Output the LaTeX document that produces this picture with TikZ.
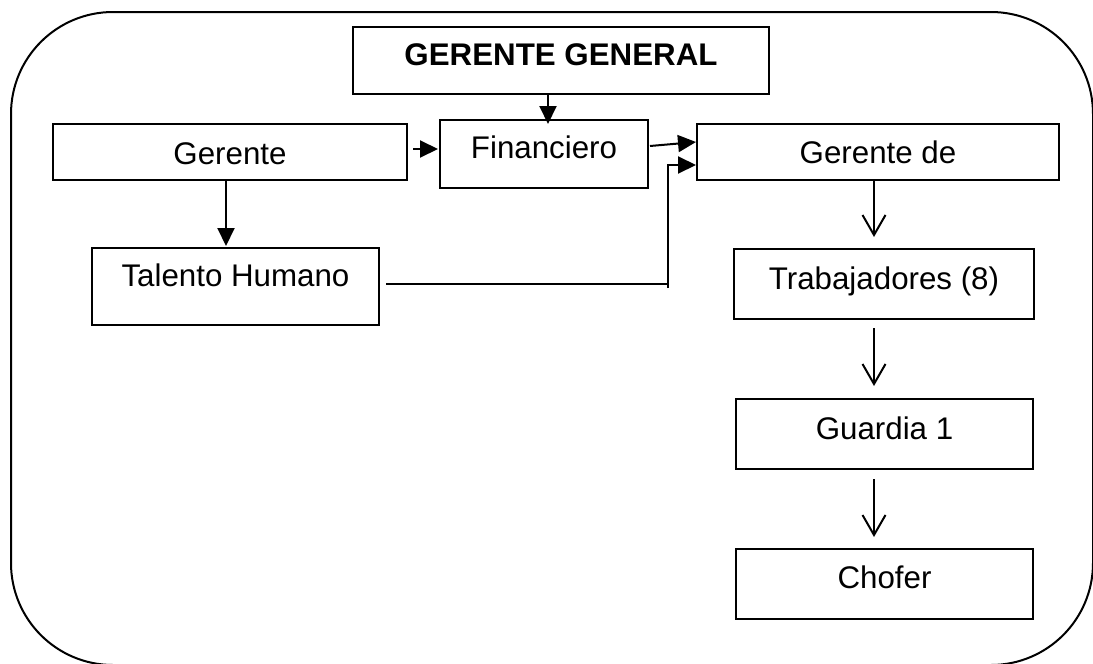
\documentclass[tikz,border=0pt]{standalone}
\usepackage{fontspec}
\setmainfont{Liberation Sans}
\usetikzlibrary{arrows.meta}
\begin{document}
\begin{tikzpicture}[x=1pt,y=-1pt,
  box/.style={draw, line width=2pt, inner sep=0pt, anchor=north west},
  lbl/.style={anchor=base, inner sep=0pt, font=\fontsize{31.3}{37}\selectfont},
  farrow/.style={line width=2pt, -{Triangle[length=18pt,width=17pt]}},
  oarrow/.style={line width=2pt, -{Straight Barb[length=20pt,width=23pt,line width=2pt]}},
  plain/.style={line width=2pt}]
\useasboundingbox (0,0) rectangle (1093,664);
% outer frame
\draw[line width=2pt, rounded corners=102pt] (11,12) rectangle (1093,665);
% boxes
\node[box, minimum width=416pt, minimum height=67pt] (gg) at (352,26) {};
\node[box, minimum width=354pt, minimum height=56pt] (ger) at (52,123) {};
\node[box, minimum width=208pt, minimum height=68pt] (fin) at (439,119) {};
\node[box, minimum width=362pt, minimum height=56pt] (gerde) at (696,123) {};
\node[box, minimum width=287pt, minimum height=77pt] (th) at (91,247) {};
\node[box, minimum width=300pt, minimum height=70pt] (trab) at (733,248) {};
\node[box, minimum width=297pt, minimum height=70pt] (guar) at (735,398) {};
\node[box, minimum width=297pt, minimum height=70pt] (chof) at (735,548) {};
% texts
\node[lbl] (ggt) at ([yshift=-39pt]gg.north) {\bfseries GERENTE GENERAL};
\node[lbl] (gert) at ([yshift=-41pt]ger.north) {Gerente};
\node[lbl] (fint) at ([yshift=-39pt]fin.north) {Financiero};
\node[lbl] (gerdet) at ([yshift=-40pt]gerde.north) {Gerente de};
\node[lbl] (tht) at ([yshift=-39pt]th.north) {Talento Humano};
\node[lbl] (trabt) at ([yshift=-41pt]trab.north) {Trabajadores (8)};
\node[lbl] (guart) at ([yshift=-41pt]guar.north) {Guardia 1};
\node[lbl] (choft) at ([yshift=-40pt]chof.north) {Chofer};
% helper coordinates
\coordinate (xgg) at (548,0);
\coordinate (xth) at (226,0);
\coordinate (xr) at (874,0);
\coordinate (j1) at (668,284);
\coordinate (j2) at (668,288);
\coordinate (j3) at (668,165);
% connectors
\draw[farrow] (gg.south -| xgg) -- ([yshift=-5pt]fin.north -| xgg);
\draw[farrow] (ger.south -| xth) -- ([yshift=1pt]th.north -| xth);
\draw[farrow] ([xshift=5pt]ger.east |- 0,149) -- ([xshift=-1pt]fin.west |- 0,149);
\draw[farrow] ([xshift=1pt]fin.east |- 0,146) -- (gerde.west |- 0,142);
\draw[plain] ([xshift=6pt]th.east |- j1) -- (j1);
\draw[farrow] (j2) -- (j3) -- (gerde.west |- j3);
\draw[oarrow] ([yshift=2pt]gerde.south -| xr) -- ([yshift=11pt]trab.north -| xr);
\draw[oarrow] ([yshift=-8pt]trab.south -| xr) -- ([yshift=12pt]guar.north -| xr);
\draw[oarrow] ([yshift=-9pt]guar.south -| xr) -- ([yshift=11pt]chof.north -| xr);
\end{tikzpicture}
\end{document}
